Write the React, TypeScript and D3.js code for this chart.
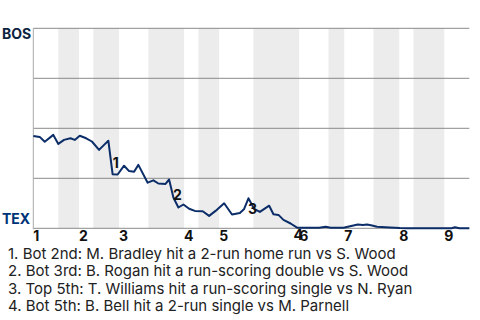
import React from "react";
import * as d3 from "d3";

// Game progress (pitch number) and Boston win probability (%)
const pitchIdx = [0, 9, 16, 28, 35, 43, 52, 58, 65, 74, 82, 92, 99, 105, 111, 118, 127, 134, 141, 147, 160, 168, 175, 185, 190, 196, 203, 210, 218, 226, 237, 246, 255, 267, 278, 289, 295, 301, 309, 317, 330, 336, 343, 350, 360, 369, 400, 409, 416, 434, 454, 461, 467, 474, 481, 499, 513, 523, 585, 590, 596, 610];
const bosWinPct = [46.2, 45.7, 43.3, 46.7, 42.2, 44.2, 45, 44.2, 46.3, 45, 43.4, 39.2, 41.7, 43.8, 27, 26.9, 31.3, 28.6, 28.3, 31.7, 22.8, 24, 22.4, 22.2, 24.4, 15.4, 10.4, 11.9, 9.8, 8.7, 8.5, 6.2, 8.7, 12.5, 6.9, 7.7, 9.7, 15, 9.7, 8.2, 11.3, 7, 6.7, 4.2, 2.4, 0.3, 0.3, 0.8, 0.3, 0.3, 1.9, 1.7, 1.9, 1.4, 0.8, 0.4, 0.1, 0, 0, 0.5, 0, 0];

// Half-inning boundaries (pitch number): start of top 1, bot 1, top 2, ...
const halfInningStarts = [0, 35, 64, 84, 120, 161, 211, 231, 260, 308, 372, 413, 435, 476, 512, 532, 575];
const gameEnd = 610;
const inningLabels = ["1", "2", "3", "4", "5", "6", "7", "8", "9"];

const yTicks = [0, 25, 50, 75, 100];
const teamTop = "BOS";
const teamBottom = "TEX";

const annotationPoint = [14, 25, 37, 45];
const annotationLabel = ["1", "2", "3", "4"];
const annotationText = [
  "1. Bot 2nd: M. Bradley hit a 2-run home run vs S. Wood",
  "2. Bot 3rd: B. Rogan hit a run-scoring double vs S. Wood",
  "3. Top 5th: T. Williams hit a run-scoring single vs N. Ryan",
  "4. Bot 5th: B. Bell hit a 2-run single vs M. Parnell",
];

// label offsets (px) relative to anchor point
const labelOffsets: [number, number][] = [[0, -6], [-0.5, 2.5], [-0.5, 16], [-3.5, 12.5]];

const W = 480;
const H = 320;
const left = 33.3;
const right = 469.3;
const top = 28.3;
const bottom = 228.3;
const FONT = "Inter, Roboto, sans-serif";

export default function App() {
  const x = d3.scaleLinear().domain([0, gameEnd]).range([left, right]);
  const y = d3.scaleLinear().domain([0, 100]).range([bottom, top]);

  const pts: [number, number][] = pitchIdx.map((p, i) => [p, bosWinPct[i]]);
  const line = d3
    .line<[number, number]>()
    .x((d) => x(d[0]))
    .y((d) => y(d[1]));

  const bands = halfInningStarts
    .map((s, i) => ({ s, e: i + 1 < halfInningStarts.length ? halfInningStarts[i + 1] : gameEnd, i }))
    .filter((b) => b.i % 2 === 1);

  const inningStarts = halfInningStarts.filter((_, i) => i % 2 === 0);

  return (
    <svg
      width={W}
      height={H}
      style={{ position: "fixed", left: 0, top: 0, background: "#fff", fontFamily: FONT }}
    >
      {bands.map((b) => (
        <rect key={b.i} x={x(b.s)} y={top} width={x(b.e) - x(b.s)} height={bottom - top} fill="#ececec" />
      ))}
      {yTicks.map((t) => (
        <line key={t} x1={left} x2={right} y1={y(t)} y2={y(t)} stroke="#8a8a8a" strokeWidth={1} />
      ))}
      <line x1={left} x2={left} y1={top} y2={bottom + 1} stroke="#aaaaaa" strokeWidth={1} />
      <path d={line(pts) || ""} fill="none" stroke="#0b2d68" strokeWidth={2} strokeLinejoin="round" />
      <text x={2} y={39} fontSize={14} fontWeight="bold" fill="#0C2340">{teamTop}</text>
      <text x={2} y={224} fontSize={14} fontWeight="bold" fill="#003278">{teamBottom}</text>
      {inningStarts.map((s, i) => (
        <text key={i} x={x(s)} y={241} fontSize={14} fontWeight="bold" fill="#111">
          {inningLabels[i]}
        </text>
      ))}
      {annotationPoint.map((pi, i) => (
        <text
          key={i}
          x={x(pitchIdx[pi]) + labelOffsets[i][0]}
          y={y(bosWinPct[pi]) + labelOffsets[i][1]}
          fontSize={14}
          fontWeight="bold"
          fill="#111"
        >
          {annotationLabel[i]}
        </text>
      ))}
      {annotationText.map((t, i) => (
        <text key={i} x={8} y={258.5 + i * 17.6} fontSize={15} fill="#222">
          {t}
        </text>
      ))}
    </svg>
  );
}
